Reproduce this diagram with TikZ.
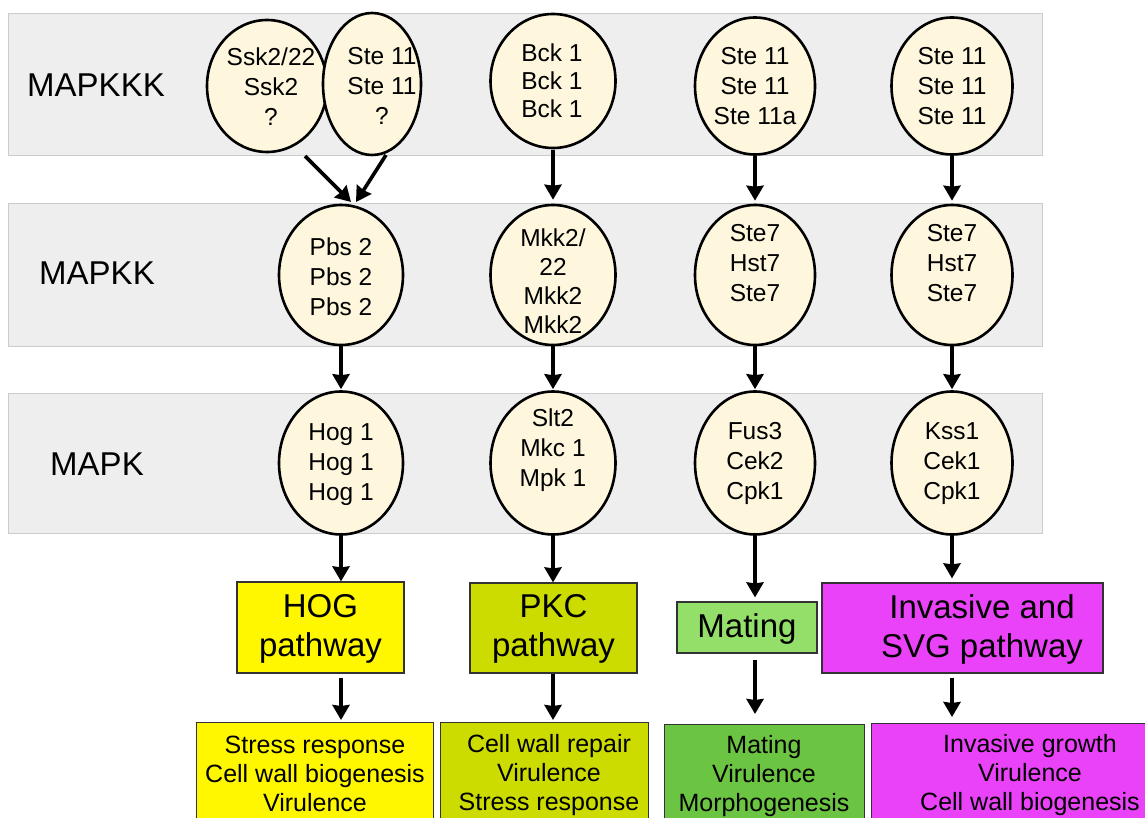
\documentclass[tikz,border=0pt]{standalone}
\usepackage{fontspec}
\setmainfont{Liberation Sans}
\usetikzlibrary{shapes.geometric,arrows.meta}
\definecolor{bandgray}{HTML}{EEEEEE}
\definecolor{bandline}{HTML}{CCCCCC}
\definecolor{cellfill}{HTML}{FEF7DE}
\definecolor{hogyellow}{HTML}{FFF700}
\definecolor{pkcgreen}{HTML}{CCDC00}
\definecolor{matlight}{HTML}{94DE6A}
\definecolor{matdark}{HTML}{6CC443}
\definecolor{invmag}{HTML}{EA42F9}
\definecolor{boxline}{HTML}{333333}
\begin{document}
\begin{tikzpicture}[x=1pt,y=-1pt,
  band/.style={draw=bandline, fill=bandgray, line width=0.8pt},
  rowlabel/.style={font=\fontsize{33}{39}\selectfont, inner sep=0pt},
  kinase/.style={ellipse, draw=black, line width=2.6pt, fill=cellfill, inner sep=0pt},
  ktext/.style={align=center, font=\fontsize{24.5}{30}\selectfont, inner sep=0pt},
  pathbox/.style={draw=boxline, line width=1.2pt, inner sep=0pt},
  ptext/.style={align=center, font=\fontsize{33}{39}\selectfont, inner sep=0pt},
  btext/.style={align=center, font=\fontsize{25}{29}\selectfont, inner sep=0pt},
  arr/.style={-{Triangle[width=17pt,length=15pt,inset=1pt]}, line width=3.6pt}
]
\useasboundingbox (0,0) rectangle (1145,818);
\clip (0,0) rectangle (1145,818);

% tier bands
\draw[band] (8,13) rectangle (1042,155);
\draw[band] (8,203) rectangle (1042,346);
\draw[band] (8,393) rectangle (1042,533);

\node[rowlabel] (lkkk) at (96,85) {MAPKKK};
\node[rowlabel] (lkk) at (97,273) {MAPKK};
\node[rowlabel] (lk) at (97,464) {MAPK};

% MAPKKK tier
\node[kinase, minimum width=120pt, minimum height=132pt] (ssk) at (267,86) {};
\node[ktext] (sskt) at (271,87) {Ssk2/22\\Ssk2\\?};
\node[kinase, minimum width=98pt, minimum height=142pt] (stea) at (372,84) {};
\node[ktext] (steat) at (382,86) {Ste 11\\Ste 11\\?};
\node[kinase, minimum width=125pt, minimum height=134pt] (bck) at (553,81) {};
\node[ktext, font=\fontsize{24.5}{28}\selectfont] (bckt) at (552,81) {Bck 1\\Bck 1\\Bck 1};
\node[kinase, minimum width=120pt, minimum height=137pt] (steb) at (755,86) {};
\node[ktext] (stebt) at (755,86) {Ste 11\\Ste 11\\Ste 11a};
\node[kinase, minimum width=121pt, minimum height=137pt] (stec) at (952,86) {};
\node[ktext] (stect) at (952,86) {Ste 11\\Ste 11\\Ste 11};

% MAPKK tier
\node[kinase, minimum width=124pt, minimum height=140pt] (pbs) at (341,275) {};
\node[ktext] (pbst) at (341,277) {Pbs 2\\Pbs 2\\Pbs 2};
\node[kinase, minimum width=125pt, minimum height=140pt] (mkk) at (553,275) {};
\node[ktext, font=\fontsize{24.5}{29}\selectfont] (mkkt) at (553,281) {Mkk2/\\22\\Mkk2\\Mkk2};
\node[kinase, minimum width=120pt, minimum height=140pt] (stsa) at (755,275) {};
\node[ktext] (stsat) at (755,263) {Ste7\\Hst7\\Ste7};
\node[kinase, minimum width=121pt, minimum height=140pt] (stsb) at (952,275) {};
\node[ktext] (stsbt) at (952,263) {Ste7\\Hst7\\Ste7};

% MAPK tier
\node[kinase, minimum width=124pt, minimum height=143pt] (hog) at (341,463) {};
\node[ktext] (hogt) at (341,465) {Hog 1\\Hog 1\\Hog 1};
\node[kinase, minimum width=125pt, minimum height=143pt] (slt) at (553,463) {};
\node[ktext] (sltt) at (553,450) {Slt2\\Mkc 1\\Mpk 1};
\node[kinase, minimum width=120pt, minimum height=143pt] (fus) at (755,463) {};
\node[ktext] (fust) at (755,463) {Fus3\\Cek2\\Cpk1};
\node[kinase, minimum width=121pt, minimum height=143pt] (kss) at (952,463) {};
\node[ktext] (psst) at (952,464) {Kss1\\Cek1\\Cpk1};

% pathway boxes
\node[pathbox, fill=hogyellow, minimum width=167pt, minimum height=91pt] (hogbox) at (320.5,627.5) {};
\node[ptext] (hogboxt) at (320.5,629) {HOG\\pathway};
\node[pathbox, fill=pkcgreen, minimum width=167pt, minimum height=90pt] (pkcbox) at (553.5,628) {};
\node[ptext] (pkcboxt) at (553.5,629) {PKC\\pathway};
\node[pathbox, fill=matlight, minimum width=140pt, minimum height=51pt] (matbox) at (747,627.5) {};
\node[ptext] (matboxt) at (747,629) {Mating};
\node[pathbox, fill=invmag, minimum width=281pt, minimum height=90pt] (invbox) at (962.5,628) {};
\node[ptext] (invboxt) at (982,629) {Invasive and\\SVG pathway};

% outcome boxes
\node[pathbox, fill=hogyellow, minimum width=237pt, minimum height=130pt, anchor=north west] (stress) at (196,722) {};
\node[btext] (stresst) at (315,774) {Stress response\\Cell wall biogenesis\\Virulence};
\node[pathbox, fill=pkcgreen, minimum width=208pt, minimum height=130pt, anchor=north west] (repair) at (440,722) {};
\node[btext] (repairt) at (549,775) {Cell wall repair\\Virulence\\Stress response};
\node[pathbox, fill=matdark, minimum width=200pt, minimum height=130pt, anchor=north west] (matbot) at (664,724) {};
\node[btext] (matbott) at (764,776) {Mating\\Virulence\\Morphogenesis};
\node[pathbox, fill=invmag, minimum width=300pt, minimum height=130pt, anchor=north west] (invbot) at (871,723) {};
\node[btext] (invbott) at (1030,775) {Invasive growth\\Virulence\\Cell wall biogenesis};

% connectors
\coordinate (sskout) at (305,156);
\coordinate (steaout) at (386,155);
\coordinate (pbsinl) at (351,202);
\coordinate (pbsinr) at (356,202);
\draw[arr] (sskout) -- (pbsinl);
\draw[arr] (steaout) -- (pbsinr);
\draw[arr, shorten <=1pt, shorten >=4pt] (bck.south) -- (mkk.north);
\draw[arr, shorten >=3pt] (steb.south) -- (stsa.north);
\draw[arr, shorten >=3pt] (stec.south) -- (stsb.north);

\draw[arr, shorten >=1pt] (pbs.south) -- (hog.north);
\draw[arr, shorten >=1pt] (mkk.south) -- (slt.north);
\draw[arr, shorten >=1pt] (stsa.south) -- (fus.north);
\draw[arr, shorten >=1pt] (stsb.south) -- (kss.north);

\draw[arr] (hog.south) -- (hogbox.north -| hog.south);
\draw[arr] (slt.south) -- (pkcbox.north -| slt.south);
\draw[arr, shorten >=4pt] (fus.south) -- (matbox.north -| fus.south);
\draw[arr, shorten >=4pt] (kss.south) -- (invbox.north -| kss.south);

\draw[arr, shorten <=4pt, shorten >=2pt] (hogbox.south -| hog.south) -- (stress.north -| hog.south);
\draw[arr, shorten >=2pt] (pkcbox.south -| slt.south) -- (repair.north -| slt.south);
\draw[arr, shorten <=6pt, shorten >=10pt] (matbox.south -| fus.south) -- (matbot.north -| fus.south);
\draw[arr, shorten <=4pt, shorten >=6pt] (invbox.south -| kss.south) -- (invbot.north -| kss.south);
\end{tikzpicture}
\end{document}
